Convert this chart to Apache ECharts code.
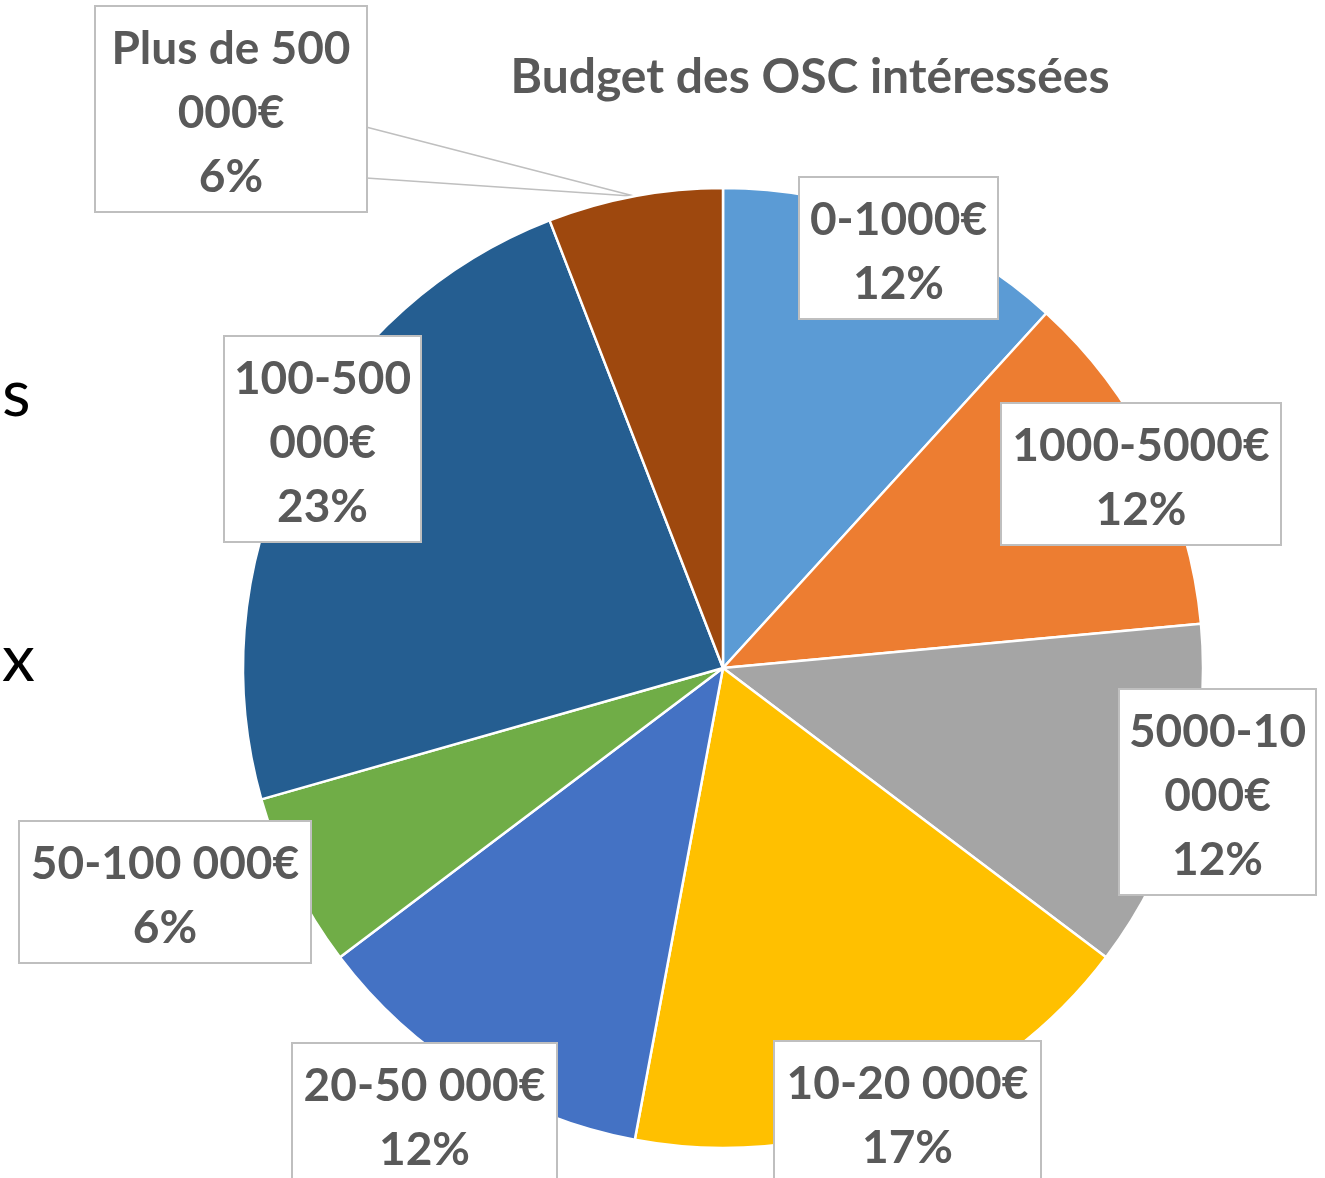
<!DOCTYPE html>
<html>
<head>
<meta charset="utf-8">
<script src="https://cdn.jsdelivr.net/npm/echarts@6/dist/echarts.min.js"></script>
<style>
  html, body { margin: 0; padding: 0; background: #fff; }
  #chart { width: 1325px; height: 1178px; }
</style>
</head>
<body>
<div id="chart"></div>
<script>
  // budget brackets, clockwise from 12 o'clock
  const categories = ['0-1000€', '1000-5000€', '5000-10 000€', '10-20 000€', '20-50 000€', '50-100 000€', '100-500 000€', 'Plus de 500 000€'];
  const labelText = ['0-1000€', '1000-5000€', '5000-10\n000€', '10-20 000€', '20-50 000€', '50-100 000€', '100-500\n000€', 'Plus de 500\n000€'];
  const counts = [2, 2, 2, 3, 2, 1, 4, 1];

  const colors = ['#5B9BD5', '#ED7D31', '#A5A5A5', '#FFC000', '#4472C4', '#70AD47', '#255E91', '#9E480E'];
  // label boxes: left, top, width
  const boxes = [
    [800, 178, 197], [1002, 404, 278], [1120, 690, 195], [775, 1042, 265],
    [293, 1044, 263], [20, 822, 290], [225, 337, 195], [96, 7, 270]
  ];

  const font = 'Lato, "Open Sans", sans-serif';
  const chart = echarts.init(document.getElementById('chart'), null, { renderer: 'canvas' });

  const data = categories.map(function (name, i) {
    return {
      name: name,
      value: counts[i],
      itemStyle: { color: colors[i] },
      label: { width: boxes[i][2] },
      labelLine: { show: i === categories.length - 1 }
    };
  });

  chart.setOption({
    animation: false,
    graphic: [
      {
        type: 'text', x: 810, y: 78,
        style: { text: 'Budget des OSC intéressées', font: 'bold 48px ' + font, fill: '#595959', align: 'center', verticalAlign: 'middle' }
      },
      { type: 'text', x: 2, y: 395, style: { text: 's', font: '66px ' + font, fill: '#000', verticalAlign: 'middle' } },
      { type: 'text', x: 2, y: 660, style: { text: 'x', font: '66px ' + font, fill: '#000', verticalAlign: 'middle' } }
    ],
    series: [{
      type: 'pie',
      center: [723, 668],
      radius: 480,
      startAngle: 90,
      clockwise: true,
      avoidLabelOverlap: false,
      percentPrecision: 0,
      itemStyle: { borderColor: '#fff', borderWidth: 2.5 },
      label: {
        show: true,
        position: 'outside',
        formatter: function (p) { return labelText[p.dataIndex] + '\n' + p.percent + '%'; },
        fontFamily: font,
        fontWeight: 'bold',
        fontSize: 46,
        lineHeight: 64,
        color: '#595959',
        backgroundColor: '#fff',
        borderColor: '#bfbfbf',
        borderWidth: 2,
        padding: [10, 0, 2, 0],
        align: 'center'
      },
      labelLine: { lineStyle: { color: '#bfbfbf', width: 1.5 }, length: 10, length2: 10 },
      labelLayout: function (params) {
        const b = boxes[params.dataIndex];
        const out = { x: b[0] + b[2] / 2, y: b[1], align: 'center', verticalAlign: 'top' };
        if (params.dataIndex === categories.length - 1 && params.labelLinePoints) {
          const tip = params.labelLinePoints[0];
          const right = b[0] + b[2];
          out.labelLinePoints = [[right, b[1] + 120], tip, [right, b[1] + 171]];
        }
        return out;
      },
      data: data
    }]
  });
</script>
</body>
</html>
